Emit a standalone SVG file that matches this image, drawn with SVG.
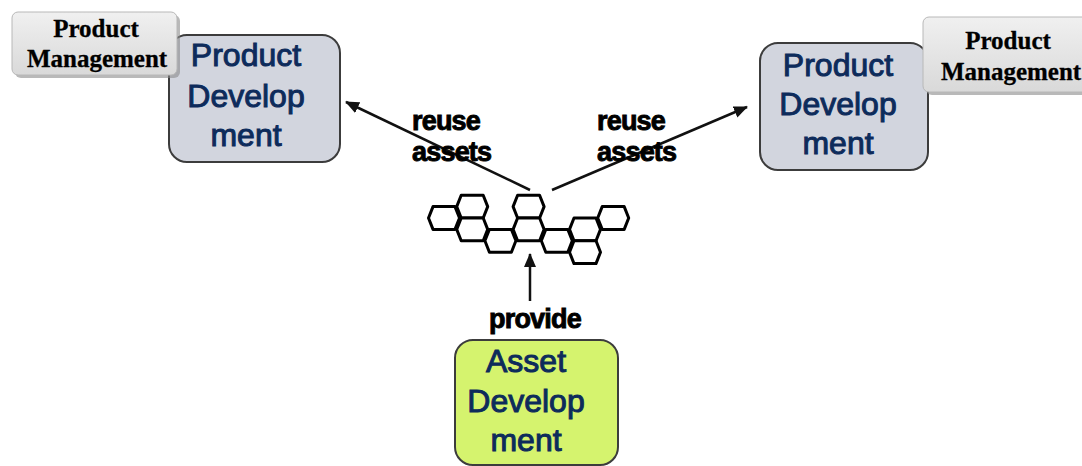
<svg xmlns="http://www.w3.org/2000/svg" width="1082" height="466" viewBox="0 0 1082 466">
  <defs>
    <style>
      .pd { fill: #d2d5de; stroke: #3c3c3c; stroke-width: 2; }
      .ad { fill: #d5f36e; stroke: #3c3c3c; stroke-width: 2; }
      .pm { fill: url(#pmGrad); stroke: #b8b8b8; stroke-width: 1; }
      .pmShadow { fill: #8a8a8a; opacity: 0.6; }
      .pdText { font-family: "Liberation Sans", Arial, sans-serif; font-size: 32px; fill: #0d2b5b; stroke: #0d2b5b; stroke-width: 1; text-anchor: middle; }
      .pmText { font-family: "Liberation Serif", "Times New Roman", serif; font-size: 25px; font-weight: bold; fill: #000; stroke: #000; stroke-width: 0.3; text-anchor: middle; }
      .lbl { font-family: "Liberation Sans", Arial, sans-serif; font-size: 27px; font-weight: bold; fill: #000; stroke: #000; stroke-width: 0.9; letter-spacing: -0.8px; }
      .conn { stroke: #111; stroke-width: 2.5; fill: none; }
      .hex { fill: #fff; stroke: #000; stroke-width: 3; stroke-linejoin: round; }
    </style>
    <linearGradient id="pmGrad" x1="0" y1="0" x2="0" y2="1">
      <stop offset="0" stop-color="#f0f0f0"/>
      <stop offset="1" stop-color="#d9d9d9"/>
    </linearGradient>
    <marker id="arrow" viewBox="0 0 14 12" refX="13" refY="6" markerWidth="14" markerHeight="12" markerUnits="userSpaceOnUse" orient="auto">
      <path d="M0,0 L14,6 L0,12 Z" fill="#111"/>
    </marker>
    <polygon id="hexShape" points="-15.5,0 -11,-11.4 11,-11.4 15.5,0 11,11.4 -11,11.4"/>
  </defs>

  <!-- Left product development + management -->
  <g id="pd-left">
    <rect class="pd" x="169" y="35" width="171" height="127" rx="18" ry="18"/>
    <text class="pdText" x="246" y="66">Product</text>
    <text class="pdText" x="246" y="107">Develop</text>
    <text class="pdText" x="246" y="146">ment</text>
  </g>
  <g id="pm-left">
    <rect class="pmShadow" x="15" y="15" width="165" height="63" rx="6" ry="6"/>
    <rect class="pm" x="12" y="12" width="165" height="63" rx="6" ry="6"/>
    <text class="pmText" x="96" y="37">Product</text>
    <text class="pmText" x="97" y="67">Management</text>
  </g>

  <!-- Right product development + management -->
  <g id="pd-right">
    <rect class="pd" x="760" y="43" width="168" height="127" rx="18" ry="18"/>
    <text class="pdText" x="838" y="76">Product</text>
    <text class="pdText" x="838" y="115">Develop</text>
    <text class="pdText" x="838" y="154">ment</text>
  </g>
  <g id="pm-right">
    <rect class="pmShadow" x="926" y="20" width="170" height="75" rx="6" ry="6"/>
    <rect class="pm" x="923" y="17" width="170" height="75" rx="6" ry="6"/>
    <text class="pmText" x="1008" y="49">Product</text>
    <text class="pmText" x="1011" y="80">Management</text>
  </g>

  <!-- Asset development -->
  <g id="asset-dev">
    <rect class="ad" x="455" y="340" width="163" height="125" rx="18" ry="18"/>
    <text class="pdText" x="526" y="372">Asset</text>
    <text class="pdText" x="526" y="412">Develop</text>
    <text class="pdText" x="526" y="451">ment</text>
  </g>

  <!-- Asset base (hexagon cluster) -->
  <g id="assets">
    <use href="#hexShape" class="hex" x="444" y="218"/>
    <use href="#hexShape" class="hex" x="472.2" y="206.6"/>
    <use href="#hexShape" class="hex" x="472.2" y="229.4"/>
    <use href="#hexShape" class="hex" x="500.4" y="240.8"/>
    <use href="#hexShape" class="hex" x="528.6" y="206.6"/>
    <use href="#hexShape" class="hex" x="528.6" y="229.4"/>
    <use href="#hexShape" class="hex" x="556.8" y="240.8"/>
    <use href="#hexShape" class="hex" x="585" y="229.4"/>
    <use href="#hexShape" class="hex" x="585" y="252.2"/>
    <use href="#hexShape" class="hex" x="613.2" y="218"/>
  </g>

  <!-- Connectors -->
  <g id="connectors">
    <line class="conn" x1="530" y1="190" x2="346" y2="102" marker-end="url(#arrow)"/>
    <line class="conn" x1="552" y1="190" x2="747" y2="107" marker-end="url(#arrow)"/>
    <line class="conn" x1="530" y1="301" x2="530" y2="254" marker-end="url(#arrow)"/>
  </g>

  <!-- Connector labels -->
  <g id="labels">
    <text class="lbl" x="412" y="130">reuse</text>
    <text class="lbl" x="412" y="161">assets</text>
    <text class="lbl" x="597" y="130">reuse</text>
    <text class="lbl" x="597" y="161">assets</text>
    <text class="lbl" x="489" y="328">provide</text>
  </g>
</svg>
